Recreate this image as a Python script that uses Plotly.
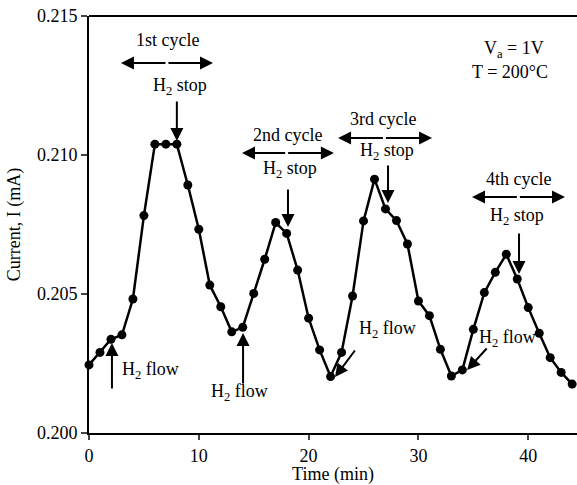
import plotly.graph_objects as go

time_min = list(range(0, 45))
current_mA = [
    0.20245, 0.20290, 0.20337, 0.20353, 0.20482, 0.20782, 0.21039, 0.21039, 0.21039, 0.20892,
    0.20733, 0.20532, 0.20454, 0.20364, 0.20380, 0.20502, 0.20625, 0.20757, 0.20718, 0.20586,
    0.20413, 0.20299, 0.20203, 0.20290, 0.20493, 0.20763, 0.20913, 0.20806, 0.20764, 0.20680,
    0.20475, 0.20422, 0.20301, 0.20205, 0.20227, 0.20373, 0.20505, 0.20578, 0.20643, 0.20554,
    0.20451, 0.20359, 0.20271, 0.20218, 0.20176,
]
x_ticks = [0, 10, 20, 30, 40]
y_ticks = [0.200, 0.205, 0.210, 0.215]

FONT = "Liberation Serif"

fig = go.Figure()
fig.add_trace(go.Scatter(
    x=time_min, y=current_mA, mode="lines+markers",
    line=dict(color="black", width=2.5),
    marker=dict(color="black", size=9),
    cliponaxis=False, showlegend=False,
))

ann = []

def text(x, y, s):
    ann.append(dict(x=x, y=y, xref="x", yref="y", text=s, showarrow=False,
                    font=dict(family=FONT, size=18, color="black")))

def arrow(x0, y0, x1, y1):
    ann.append(dict(x=x1, y=y1, ax=x0, ay=y0, xref="x", yref="y", axref="x", ayref="y",
                    text="", showarrow=True, arrowhead=2, arrowsize=1.3, arrowwidth=2,
                    arrowcolor="black", standoff=0, startstandoff=0))

# cycle labels and double arrows
text(7.19, 0.214137, "1st cycle")
arrow(7.1, 0.21331, 11.29, 0.21331)
arrow(7.1, 0.21331, 2.91, 0.21331)
text(18.12, 0.210719, "2nd cycle")
arrow(18.0, 0.210072, 22.3, 0.210072)
arrow(18.0, 0.210072, 13.93, 0.210072)
text(26.78, 0.211295, "3rd cycle")
arrow(26.9, 0.210612, 31.24, 0.210612)
arrow(26.9, 0.210612, 22.68, 0.210612)
text(39.07, 0.209137, "4th cycle")
arrow(39.1, 0.208489, 43.35, 0.208489)
arrow(39.1, 0.208489, 34.88, 0.208489)

# H2 stop
text(8.29, 0.212482, "H<sub>2</sub> stop")
arrow(8.0, 0.21198, 8.0, 0.2105)
text(18.31, 0.209496, "H<sub>2</sub> stop")
arrow(18.12, 0.208813, 18.12, 0.20741)
text(27.14, 0.210144, "H<sub>2</sub> stop")
arrow(27.23, 0.209676, 27.23, 0.208273)
text(38.98, 0.20777, "H<sub>2</sub> stop")
arrow(39.16, 0.20723, 39.16, 0.205719)

# H2 flow
text(5.56, 0.202266, "H<sub>2</sub> flow")
arrow(2.09, 0.201547, 2.09, 0.203237)
text(13.75, 0.201475, "H<sub>2</sub> flow")
arrow(14.03, 0.201727, 14.03, 0.203597)
text(27.14, 0.203741, "H<sub>2</sub> flow")
arrow(24.32, 0.203022, 22.40, 0.202014)
text(38.07, 0.203417, "H<sub>2</sub> flow")
arrow(36.34, 0.203094, 34.43, 0.202266)

# conditions
text(38.71, 0.21378, "V<sub>a</sub> = 1V")
text(38.34, 0.212986, "T = 200°C")

fig.update_layout(
    width=577, height=485,
    margin=dict(l=89, r=0, t=16, b=52),
    paper_bgcolor="white", plot_bgcolor="white",
    font=dict(family=FONT, size=18, color="black"),
    annotations=ann,
    shapes=[dict(type="line", xref="paper", yref="paper", x0=0, x1=1, y0=1, y1=1,
                 line=dict(color="black", width=2))],
    xaxis=dict(range=[0, 44.44], tickvals=x_ticks, ticks="outside", ticklen=5, tickwidth=2,
               showline=True, linecolor="black", linewidth=2, showgrid=False, zeroline=False,
               title=dict(text="Time (min)", standoff=2, font=dict(size=18))),
    yaxis=dict(range=[0.200, 0.215], tickvals=y_ticks, tickformat=".3f", ticks="outside",
               ticklen=6, tickwidth=2, showline=True, linecolor="black", linewidth=2,
               showgrid=False, zeroline=False,
               title=dict(text="Current, I (mA)", standoff=12, font=dict(size=18))),
)

fig.write_html("out.html")
